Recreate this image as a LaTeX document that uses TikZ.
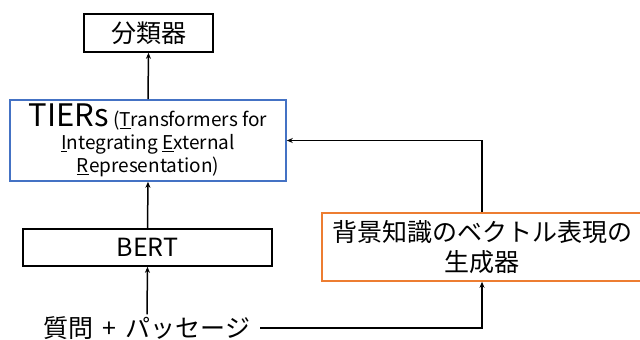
\documentclass[tikz,border=0pt]{standalone}
\usepackage{fontspec}
\setmainfont{Noto Sans CJK JP}
\usetikzlibrary{arrows.meta}
\definecolor{boxblue}{HTML}{4472C4}
\definecolor{boxorange}{HTML}{ED7D31}
\begin{document}
\begin{tikzpicture}[x=1pt,y=-1pt,
  box/.style={draw=black, line width=1.6pt, inner sep=0pt, align=center},
  arr/.style={line width=1.5pt, -{Stealth[length=6pt,width=5pt]}},
  big/.style={font=\fontsize{25}{30}\selectfont}]
\useasboundingbox (0,0) rectangle (640,340);
\node[box, big, minimum width=129pt, minimum height=38pt] (cls) at (148.5,33) {分類器};
\node[box, draw=boxblue, minimum width=276pt, minimum height=81pt,
  font=\fontsize{19}{23}\selectfont] (tiers) at (148,140.5)
  {{\fontsize{31}{23}\selectfont TIERs} (\underline{T}ransformers for\\
   \underline{I}ntegrating \underline{E}xternal\\
   \underline{R}epresentation)};
\node[box, big, minimum width=249pt, minimum height=37pt] (bert) at (147.5,247.5) {BERT};
\node[box, draw=boxorange, big, minimum width=320pt, minimum height=68pt] (bg) at (482,247)
  {背景知識のベクトル表現の\\生成器};
\node[big, inner sep=2pt] (q) at (147,328) {質問\hspace{9pt}+\hspace{9pt}パッセージ};
\draw[arr] (tiers.north) -- (cls.south);
\draw[arr] (bert.north) -- (tiers.south);
\draw[arr] (q.north) -- (bert.south);
\draw[arr] ([xshift=8pt]q.east) -| (bg.south);
\draw[arr] (bg.north) |- (tiers.east);
\end{tikzpicture}
\end{document}
